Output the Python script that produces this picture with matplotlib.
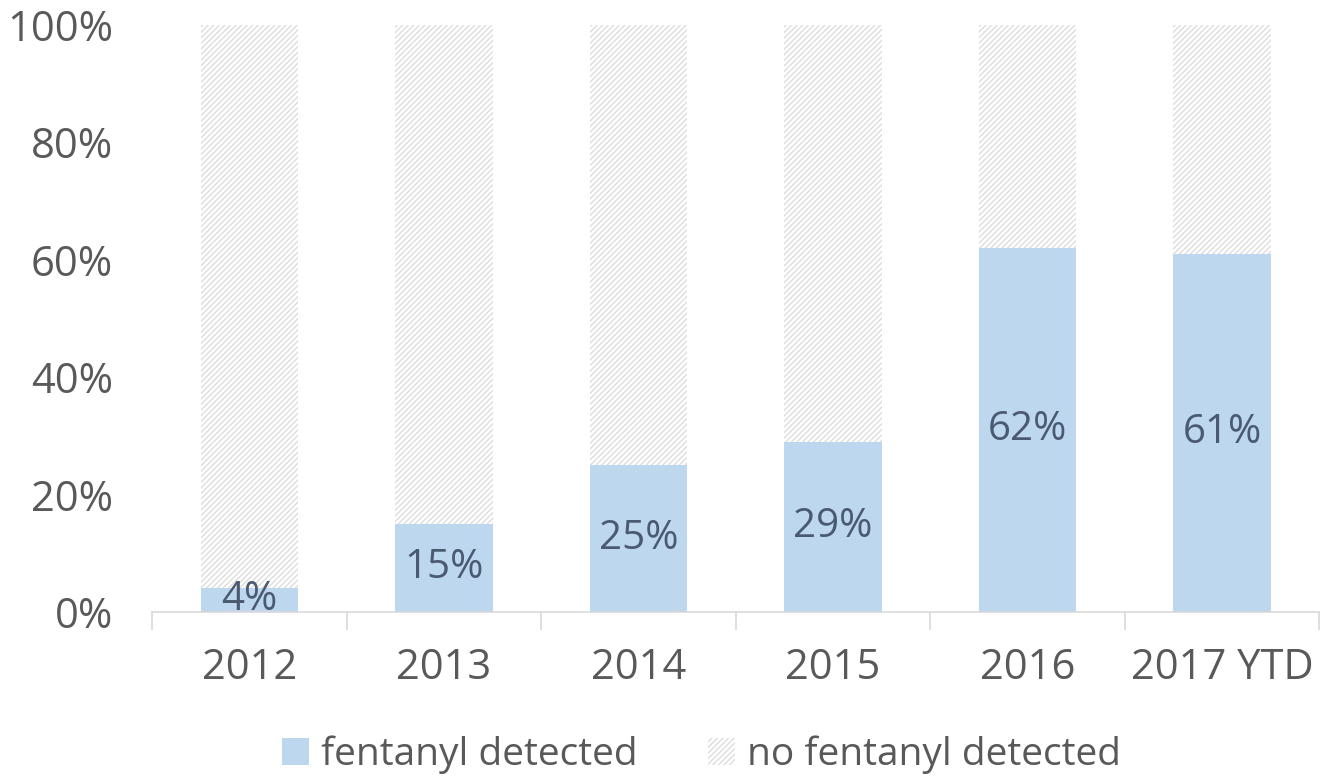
import matplotlib
matplotlib.use("Agg")
import matplotlib.pyplot as plt
import numpy as np
from matplotlib.patches import Patch

categories = ["2012", "2013", "2014", "2015", "2016", "2017 YTD"]
fentanyl = [4, 15, 25, 29, 62, 61]
no_fentanyl = [100 - v for v in fentanyl]
yticks = [0, 20, 40, 60, 80, 100]
ytick_labels = ["0%", "20%", "40%", "60%", "80%", "100%"]

plt.rcParams['font.family'] = ['Open Sans', 'DejaVu Sans']
plt.rcParams['hatch.linewidth'] = 0.9

fig = plt.figure(figsize=(13.22, 7.78), dpi=100)
ax = fig.add_axes([0.115, 0.2134, 0.883, 0.7546])

x = np.arange(len(categories))
blue = "#bdd7ee"
hatch_col = "#dadada"
ax.bar(x, fentanyl, width=0.5, color=blue, linewidth=0, zorder=2)
ax.bar(x, no_fentanyl, width=0.5, bottom=fentanyl, facecolor="white",
       edgecolor=hatch_col, hatch="//////", linewidth=0, zorder=2)

for xi, v in zip(x, fentanyl):
    ax.text(xi, v / 2, f"{v}%", ha="center", va="center",
            fontsize=29, color="#4a5a70", zorder=3)

ax.set_xlim(-0.5, len(categories) - 0.5)
ax.set_ylim(0, 100)
ax.set_yticks(yticks)
ax.set_yticklabels(ytick_labels)
ax.set_xticks(x)
ax.set_xticklabels(categories)
ax.set_xticks(np.arange(len(categories) + 1) - 0.5, minor=True)

ax.tick_params(axis='y', length=0, labelsize=30, labelcolor="#595959", pad=28)
ax.tick_params(axis='x', which='major', length=0, labelsize=30, labelcolor="#595959", pad=25)
ax.tick_params(axis='x', which='minor', length=13, color="#d9d9d9", width=1.2)

for s in ["top", "right", "left"]:
    ax.spines[s].set_visible(False)
ax.spines["bottom"].set_color("#d9d9d9")
ax.spines["bottom"].set_linewidth(1.2)

handles = [Patch(facecolor=blue, linewidth=0, label="fentanyl detected"),
           Patch(facecolor="white", edgecolor=hatch_col, hatch="//////", linewidth=0,
                 label="no fentanyl detected")]
fig.legend(handles=handles, loc="center", bbox_to_anchor=(0.5306, 0.03), ncol=2,
           frameon=False, fontsize=28, labelcolor="#595959", handlelength=0.7,
           handleheight=0.7, handletextpad=0.3, columnspacing=1.8,
           borderpad=0.2)

fig.savefig("out.png", dpi=100)
